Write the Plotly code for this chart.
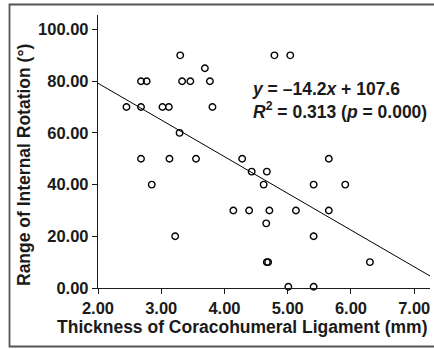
import plotly.graph_objects as go
import numpy as np

# Data
thickness_mm = [2.45, 2.68, 2.68, 2.77, 3.02, 3.12, 3.30, 3.33, 3.46, 3.69, 3.77, 3.81,
                3.29, 2.68, 3.13, 3.55, 4.28, 4.43, 2.85, 4.14, 4.39, 4.67, 4.62, 5.41,
                5.91, 5.65, 4.71, 5.13, 5.65, 4.66, 5.41, 4.67, 4.69, 6.30, 5.01, 5.41,
                3.22, 4.79, 5.04]
internal_rotation = [70, 70, 80, 80, 70, 70, 90, 80, 80, 85, 80, 70,
                     60, 50, 50, 50, 50, 45, 40, 30, 30, 45, 40, 40,
                     40, 50, 30, 30, 30, 25, 20, 10, 10, 10, 0.5, 0.5,
                     20, 90, 90]
slope = -14.2
intercept = 107.6
x_range = [2.0, 7.25]
y_range = [0.0, 105.6]
x_ticks = [2, 3, 4, 5, 6, 7]
y_ticks = [0, 20, 40, 60, 80, 100]

W, H = 434, 349
L, R, T, B = 98, 4, 15, 61
pw, ph = W - L - R, H - T - B

font_family = "Liberation Sans, Arial, sans-serif"
ink = "#1a1a1a"


def px(xp):
    return (xp - L) / pw


def py(yp):
    return (T + ph - yp) / ph


fit_x = np.array(x_range)
fit_y = slope * fit_x + intercept

fig = go.Figure()
fig.add_trace(go.Scatter(
    x=thickness_mm, y=internal_rotation, mode="markers",
    marker=dict(symbol="circle-open", size=6.5, color="black", line=dict(width=1.4, color="black")),
    cliponaxis=False, showlegend=False, hoverinfo="skip"))
fig.add_trace(go.Scatter(
    x=fit_x, y=fit_y, mode="lines", line=dict(color="black", width=1),
    showlegend=False, hoverinfo="skip"))

axis_common = dict(
    showgrid=False, zeroline=False, showline=True, linecolor=ink, linewidth=1.3,
    ticks="outside", ticklen=5, tickwidth=1.2, tickcolor=ink,
    tickformat=".2f", automargin=False,
    tickfont=dict(family=font_family, size=16.5, color=ink, weight="bold"),
)

title_font = dict(family=font_family, size=17.5, color=ink, weight="bold")

fig.update_layout(
    width=W, height=H, margin=dict(l=L, r=R, t=T, b=B, autoexpand=False),
    paper_bgcolor="white", plot_bgcolor="white",
    xaxis=dict(range=x_range, tickvals=x_ticks, **axis_common),
    yaxis=dict(range=y_range, tickvals=y_ticks, **axis_common),
    annotations=[
        dict(xref="paper", yref="paper", x=px(242), y=py(327),
             xanchor="center", yanchor="middle", showarrow=False,
             text="Thickness of Coracohumeral Ligament (mm)", font=title_font),
        dict(xref="paper", yref="paper", x=px(24), y=py(165),
             xanchor="center", yanchor="middle", showarrow=False, textangle=-90,
             text="Range of Internal Rotation (°)", font=title_font),
        dict(xref="paper", yref="paper", x=px(250), y=py(77),
             xanchor="left", yanchor="top", align="left", showarrow=False,
             text="<i>y</i> = \u201314.2<i>x</i> + 107.6<br><i>R</i><sup>2</sup> = 0.313 (<i>p</i> = 0.000)",
             font=title_font),
    ],
    shapes=[dict(type="rect", xref="paper", yref="paper",
                 x0=px(9.5), x1=px(440), y0=py(346.5), y1=py(4.5),
                 line=dict(color="#555", width=1.8), layer="below")],
)

fig.write_html("out.html", config={"displayModeBar": False},
               post_script="document.body.style.margin='0';")
